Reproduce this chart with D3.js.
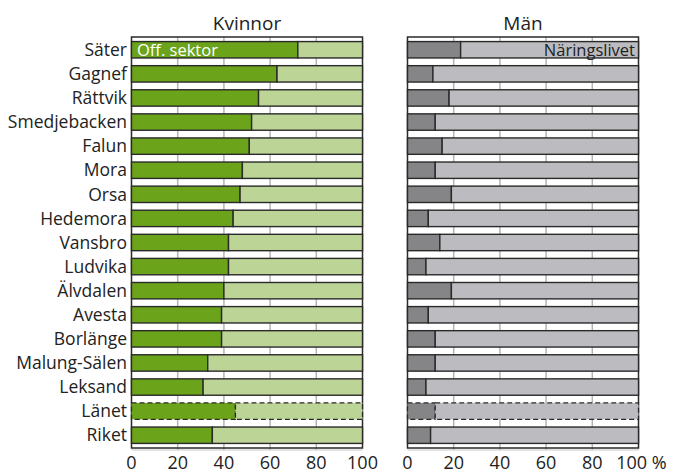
<!DOCTYPE html>
<html><head><meta charset="utf-8">
<script src="https://cdn.jsdelivr.net/npm/d3@7"></script>
<style>body{margin:0;background:#fff}svg{display:block}text{font-family:"Open Sans",sans-serif;fill:#222}</style>
</head><body>
<svg id="c" width="676" height="474"></svg>
<script>
const categories = ["Säter","Gagnef","Rättvik","Smedjebacken","Falun","Mora","Orsa","Hedemora","Vansbro","Ludvika","Älvdalen","Avesta","Borlänge","Malung-Sälen","Leksand","Länet","Riket"];
const kvinnorOff = [72,63,55,52,51,48,47,44,42,42,40,39,39,33,31,45,35];
const manOff = [23,11,18,12,15,12,19,9,14,8,19,9,12,12,8,12,10];
const tickValues = [0,20,40,60,80,100];
const tickLabelsLeft = ["0","20","40","60","80","100"];
const tickLabelsRight = ["0","20","40","60","80","100 %"];
const panelTitles = ["Kvinnor","Män"];

const svg = d3.select("#c");
const y = d3.scaleBand().domain(categories).range([37,448]).paddingInner(0.32).paddingOuter(0.19);

const panels = [
  {x0:131.5, x1:362.5, data:kvinnorOff, dark:"#6ba31b", light:"#bdd497", title:panelTitles[0], ticks:tickLabelsLeft},
  {x0:407.5, x1:638.5, data:manOff, dark:"#858587", light:"#bcbcc0", title:panelTitles[1], ticks:tickLabelsRight}
];

panels.forEach((p,pi)=>{
  const x = d3.scaleLinear().domain([0,100]).range([p.x0,p.x1]);
  const g = svg.append("g");
  g.selectAll("line.grid").data(tickValues.slice(1,-1)).join("line")
    .attr("x1",d=>x(d)).attr("x2",d=>x(d)).attr("y1",37).attr("y2",450)
    .attr("stroke","#b4b4b4").attr("stroke-width",1.5);
  g.append("line").attr("x1",x(0)).attr("x2",x(100)).attr("y1",450).attr("y2",450).attr("stroke","#c8c8c8").attr("stroke-width",1.2);
  g.append("rect").attr("x",x(0)).attr("y",37).attr("width",x(100)-x(0)).attr("height",411)
    .attr("fill","none").attr("stroke","#2a2a2a").attr("stroke-width",1.5);
  categories.forEach((c,i)=>{
    const v = p.data[i];
    const dashed = c==="Länet";
    const rows = [{a:0,b:v,col:p.dark},{a:v,b:100,col:p.light}];
    rows.forEach(r=>{
      g.append("rect").attr("x",x(r.a)).attr("y",y(c)).attr("width",x(r.b)-x(r.a)).attr("height",y.bandwidth())
        .attr("fill",r.col).attr("stroke","#2a2a2a").attr("stroke-width",dashed?1.3:1.4)
        .attr("stroke-dasharray",dashed?"5,3":null);
    });
  });
  g.append("text").attr("x",(x(0)+x(100))/2).attr("y",30).attr("text-anchor","middle").attr("font-size",19).text(p.title);
  g.selectAll("text.tick").data(tickValues).join("text")
    .attr("x",(d,i)=> i===5 && pi===1 ? x(d)+3 : x(d)).attr("y",469).attr("text-anchor","middle").attr("font-size",18)
    .text((d,i)=>p.ticks[i]);
});

svg.selectAll("text.cat").data(categories).join("text")
  .attr("x",127).attr("y",d=>y(d)+y.bandwidth()/2+6.2).attr("text-anchor","end").attr("font-size",17.5).text(d=>d);

svg.append("text").attr("x",137).attr("y",y("Säter")+y.bandwidth()/2+6).attr("font-size",16.5).style("fill","#fff").text("Off. sektor");
svg.append("text").attr("x",635).attr("y",y("Säter")+y.bandwidth()/2+6).attr("text-anchor","end").attr("font-size",16.5).text("Näringslivet");
</script>
</body></html>
